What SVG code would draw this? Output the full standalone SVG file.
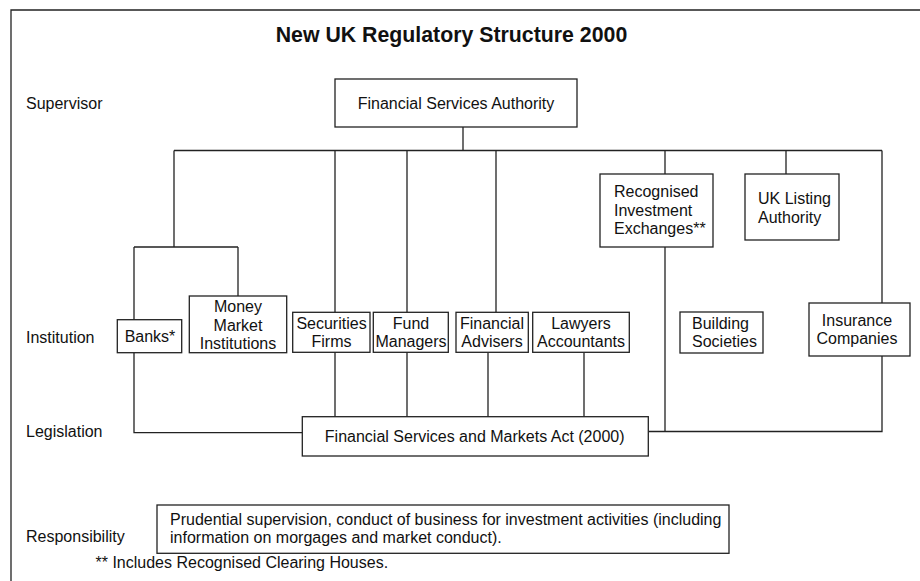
<svg xmlns="http://www.w3.org/2000/svg" width="920" height="581" viewBox="0 0 920 581">
<style>
text{font-family:"Liberation Sans",Arial,Helvetica,sans-serif;font-size:16px;fill:#111}
.t{font-size:21.3px;font-weight:bold}
.c{text-anchor:middle}
rect{fill:#fff;stroke:#222;stroke-width:1.3}
.ln{fill:none;stroke:#222;stroke-width:1.3}
</style>
<rect x="0" y="0" width="920" height="581" style="stroke:none"/>
<path class="ln" d="M11,581 V10 H920"/>
<text class="t c" x="451.5" y="42">New UK Regulatory Structure 2000</text>
<g id="labels">
<text x="26" y="109">Supervisor</text>
<text x="26" y="342.5">Institution</text>
<text x="26" y="437">Legislation</text>
<text x="26" y="542">Responsibility</text>
<text x="95.5" y="568">** Includes Recognised Clearing Houses.</text>
</g>
<g id="connectors">
<path class="ln" d="M463,127 V150.5 M174,150.5 H882 M174,150.5 V247 M134,247 H238 M134,247 V320 M238,247 V296 M335,150.5 V312 M407,150.5 V312 M496,150.5 V312 M665,150.5 V174 M786,150.5 V174 M882,150.5 V303"/>
<path class="ln" d="M134,353 V432.7 H302 M335,352 V417 M407,352 V417 M488,353 V417 M584,353 V417 M665,247 V431.5 M649,431.5 H882 V356"/>
</g>
<g id="fsa"><rect x="335" y="79" width="242" height="48"/><text class="c" x="456" y="109">Financial Services Authority</text></g>
<g id="rie"><rect x="600" y="174" width="113" height="73"/><text x="614" y="197">Recognised</text><text x="614" y="215.5">Investment</text><text x="614" y="234">Exchanges**</text></g>
<g id="ukla"><rect x="745" y="174" width="94" height="66"/><text x="758" y="204">UK Listing</text><text x="758" y="222.5">Authority</text></g>
<g id="banks"><rect x="117.3" y="319.7" width="64.4" height="33"/><text class="c" x="150" y="341.7">Banks*</text></g>
<g id="mmi"><rect x="189.3" y="296" width="97.4" height="56.7"/><text class="c" x="238" y="312.3">Money</text><text class="c" x="238" y="330.7">Market</text><text class="c" x="238" y="349">Institutions</text></g>
<g id="securities"><rect x="292.7" y="312.3" width="77.3" height="40"/><text class="c" x="331.5" y="329">Securities</text><text class="c" x="331.5" y="347.3">Firms</text></g>
<g id="fund"><rect x="373.3" y="312.3" width="75" height="40"/><text class="c" x="411" y="329">Fund</text><text class="c" x="411" y="347.3">Managers</text></g>
<g id="advisers"><rect x="456" y="312.3" width="72.3" height="40"/><text class="c" x="492" y="329">Financial</text><text class="c" x="492" y="347.3">Advisers</text></g>
<g id="lawyers"><rect x="532.7" y="312.3" width="96.6" height="40"/><text class="c" x="581" y="329">Lawyers</text><text class="c" x="581" y="347.3">Accountants</text></g>
<g id="building"><rect x="680" y="312" width="83" height="41"/><text x="692" y="329">Building</text><text x="692" y="347.3">Societies</text></g>
<g id="insurance"><rect x="809" y="303" width="101" height="53"/><text class="c" x="857" y="325.7">Insurance</text><text class="c" x="857" y="344">Companies</text></g>
<g id="fsma"><rect x="302.3" y="416.7" width="346" height="39.3"/><text class="c" x="474.7" y="442.3">Financial Services and Markets Act (2000)</text></g>
<g id="resp"><rect x="157" y="505" width="572" height="48.3"/><text x="170" y="525">Prudential supervision, conduct of business for investment activities (including</text><text x="170" y="543.3">information on morgages and market conduct).</text></g>
</svg>
